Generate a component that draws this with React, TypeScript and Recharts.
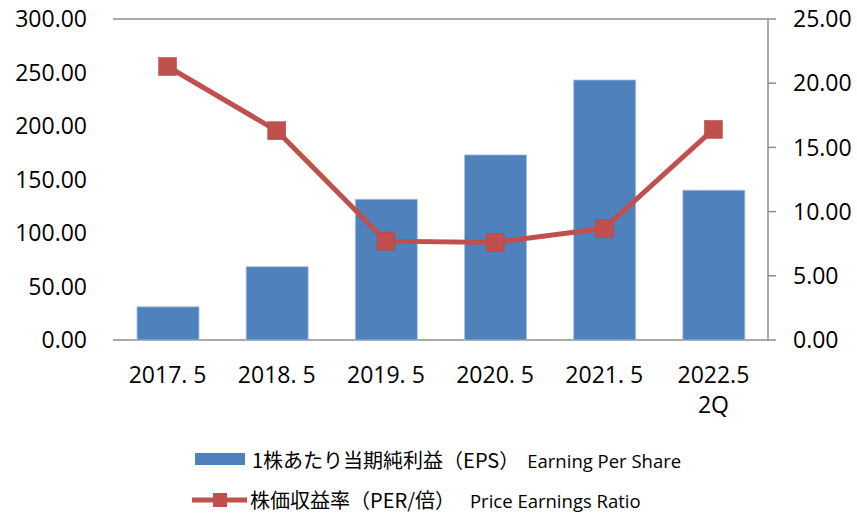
import React from 'react';
import { ComposedChart, Bar, Line, XAxis, YAxis, CartesianGrid, Legend } from 'recharts';

const categories = ['2017. 5', '2018. 5', '2019. 5', '2020. 5', '2021. 5', '2022.5\n2Q'];
const epsValues = [31, 68.5, 131.5, 173, 243, 140];
const perValues = [21.3, 16.3, 7.7, 7.6, 8.7, 16.4];
const leftTicks = [0, 50, 100, 150, 200, 250, 300];
const rightTicks = [0, 5, 10, 15, 20, 25];

const epsLabel = '1株あたり当期純利益（EPS）';
const epsLabelEn = 'Earning Per Share';
const perLabel = '株価収益率（PER/倍）';
const perLabelEn = 'Price Earnings Ratio';

const BAR = '#4F81BD';
const LINE = '#C0504D';
const GRID = '#8C8C8C';
const FONT = '"Open Sans", "Noto Sans", sans-serif';

const data = categories.map((c, i) => ({ name: c, eps: epsValues[i], per: perValues[i] }));

const XTick = (props: any) => {
  const { x, y, payload } = props;
  const lines = String(payload.value).split('\n');
  return (
    <text x={x} y={y} textAnchor="middle" fontFamily={FONT} fontSize={23} fill="#000">
      {lines.map((l, i) => (
        <tspan key={i} x={x} dy={i === 0 ? 43 : 30}>{l}</tspan>
      ))}
    </text>
  );
};

const SquareDot = (props: any) => {
  const { cx, cy } = props;
  if (cx == null || cy == null) return null;
  return <rect x={cx - 9} y={cy - 9} width={18} height={18} fill={LINE} stroke="#B9403D" strokeWidth={0.5} />;
};

const LegendContent = () => (
  <div style={{ position: 'relative', width: 857, height: 80, color: '#000' }}>
    <div style={{ position: 'absolute', left: 195, top: 13, width: 50, height: 12, background: BAR }} />
    <div style={{ position: 'absolute', left: 252, top: 0, height: 40, lineHeight: '40px', whiteSpace: 'nowrap', fontSize: 20, fontFamily: '"Noto Sans CJK JP"' }}>
      {epsLabel}
      <span style={{ fontFamily: FONT, fontSize: 18.5, marginLeft: 8 }}>{epsLabelEn}</span>
    </div>
    <svg style={{ position: 'absolute', left: 192, top: 50 }} width={56} height={20}>
      <line x1={0} y1={10} x2={55} y2={10} stroke={LINE} strokeWidth={5} />
      <rect x={21} y={3} width={14} height={14} fill={LINE} />
    </svg>
    <div style={{ position: 'absolute', left: 250, top: 40, height: 40, lineHeight: '40px', whiteSpace: 'nowrap', fontSize: 20, fontFamily: '"Noto Sans CJK JP"' }}>
      {perLabel}
      <span style={{ fontFamily: FONT, fontSize: 18.5, marginLeft: 15 }}>{perLabelEn}</span>
    </div>
  </div>
);

export default function App() {
  return (
    <div style={{ position: 'absolute', left: 0, top: 0, width: 857, height: 513, background: '#fff' }}>
      <ComposedChart width={857} height={513} data={data} margin={{ top: 19, right: 0, left: 0, bottom: 33 }}>
        <CartesianGrid vertical={false} stroke={GRID} strokeWidth={1.5} />
        <XAxis
          dataKey="name"
          axisLine={false}
          tickLine={false}
          tickSize={0}
          tickMargin={0}
          height={60}
          interval={0}
          tick={<XTick />}
        />
        <YAxis
          yAxisId="left"
          orientation="left"
          domain={[0, 300]}
          ticks={leftTicks}
          width={113}
          axisLine={false}
          tickLine={false}
          tickSize={6}
          tickMargin={20}
          tickFormatter={(v: number) => v.toFixed(2)}
          tick={{ fontFamily: FONT, fontSize: 23, fill: '#000' }}
        />
        <YAxis
          yAxisId="right"
          orientation="right"
          domain={[0, 25]}
          ticks={rightTicks}
          width={89}
          axisLine={{ stroke: GRID, strokeWidth: 1.5 }}
          tickLine={{ stroke: GRID, strokeWidth: 1.5 }}
          tickSize={8}
          tickMargin={17}
          tickFormatter={(v: number) => v.toFixed(2)}
          tick={{ fontFamily: FONT, fontSize: 23, fill: '#000', textAnchor: 'start' }}
        />
        <Legend
          content={<LegendContent />}
          wrapperStyle={{ top: 440, left: 0, bottom: 'auto', width: 857, height: 80 }}
        />
        <Bar yAxisId="left" dataKey="eps" fill={BAR} stroke="#A9C1E0" strokeWidth={0.8} barSize={62} isAnimationActive={false} />
        <Line
          yAxisId="right"
          dataKey="per"
          stroke={LINE}
          strokeWidth={5}
          dot={<SquareDot />}
          activeDot={false}
          isAnimationActive={false}
        />
      </ComposedChart>
    </div>
  );
}
